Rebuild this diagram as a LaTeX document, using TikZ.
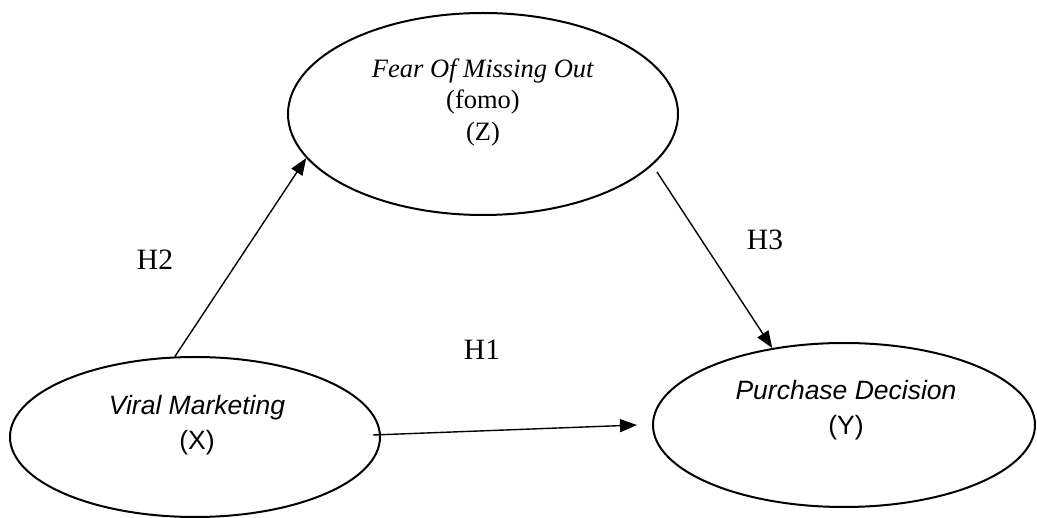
\documentclass[tikz,border=0pt]{standalone}
\usepackage{fontspec}
\setmainfont{Liberation Serif}
\newfontfamily\arialf{Liberation Sans}
\usetikzlibrary{shapes.geometric,arrows.meta}
\tikzset{
  construct/.style={draw, ellipse, line width=2pt, inner sep=0pt},
  arr/.style={line width=1.4pt, -{Triangle[length=17pt,width=13pt]}},
  hlabel/.style={font=\fontsize{29.5}{32}\selectfont, inner sep=0pt},
  ztxt/.style={align=center, inner sep=0pt, font=\fontsize{26.5}{31.5}\selectfont},
  stxt/.style={align=center, inner sep=0pt, font=\arialf\fontsize{26.5}{34.5}\selectfont}
}
\begin{document}
\begin{tikzpicture}[x=1pt,y=-1pt]
\useasboundingbox (0,0) rectangle (1037,518);
\node[construct, minimum width=390pt, minimum height=202pt] (z) at (483,114) {};
\node[construct, minimum width=370pt, minimum height=160pt] (x) at (195,437) {};
\node[construct, minimum width=382pt, minimum height=164pt] (y) at (844,425) {};
\node[ztxt] (zt) at (483,102) {\textit{Fear Of Missing Out}\\(fomo)\\(Z)};
\node[stxt] (xt) at (197,425) {\textit{Viral Marketing}\\(X)};
\node[stxt] (yt) at (846,410) {\textit{Purchase Decision}\\(Y)};
\coordinate (h3s) at (657,172);
\draw[arr] (x.104) -- (z.194);
\draw[arr] ([xshift=-8pt,yshift=2pt]x.east) -- ([xshift=-15pt]y.west);
\draw[arr] (h3s) -- (y.133);
\node[hlabel] (h1) at (482,350) {H1};
\node[hlabel] (h2) at (155,260) {H2};
\node[hlabel] (h3) at (765,240) {H3};
\end{tikzpicture}
\end{document}
